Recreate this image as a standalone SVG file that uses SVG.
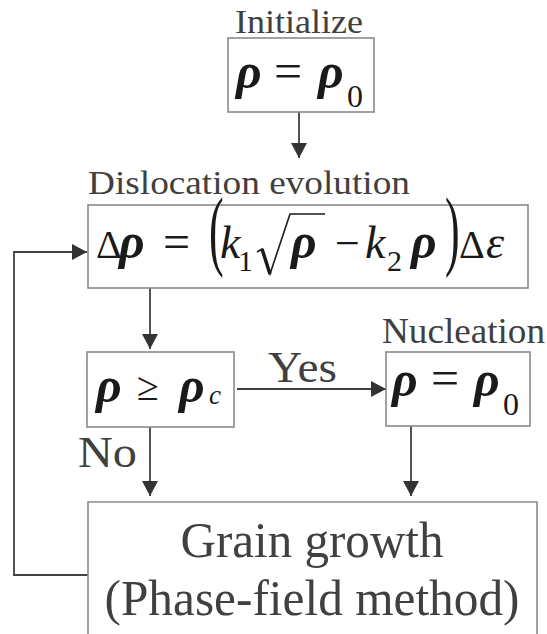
<svg xmlns="http://www.w3.org/2000/svg" width="547" height="634" viewBox="0 0 547 634">
<defs>
<style>
.box{fill:#ffffff;stroke:#8a8a8a;stroke-width:1.6}
.con{fill:none;stroke:#404040;stroke-width:1.8}
.lbl{font-family:"Liberation Serif",serif;fill:#404040}
.m{font-family:"Liberation Serif",serif;fill:#1a1a1a}
.gr{font-style:italic;font-weight:bold;font-size:50px}
.it{font-style:italic}
</style>
<marker id="ah" markerUnits="userSpaceOnUse" markerWidth="18" markerHeight="16" refX="15" refY="8" orient="auto">
<path d="M0,0 L15,8 L0,16 Z" fill="#333333"/>
</marker>
</defs>
<rect width="547" height="634" fill="#ffffff"/>

<g id="connectors">
<line class="con" x1="299" y1="112" x2="299" y2="158" marker-end="url(#ah)"/>
<line class="con" x1="150" y1="288" x2="150" y2="349" marker-end="url(#ah)"/>
<line class="con" x1="237" y1="389" x2="386" y2="389" marker-end="url(#ah)"/>
<line class="con" x1="150" y1="427" x2="150" y2="496" marker-end="url(#ah)"/>
<line class="con" x1="411" y1="426" x2="411" y2="496" marker-end="url(#ah)"/>
<polyline class="con" points="88,575 14,575 14,252 87,252" marker-end="url(#ah)"/>
<text class="lbl" x="268" y="382" font-size="45" textLength="69" lengthAdjust="spacingAndGlyphs">Yes</text>
<text class="lbl" x="78" y="467" font-size="45" textLength="59" lengthAdjust="spacingAndGlyphs">No</text>
</g>

<g id="initialize">
<text class="lbl" x="235" y="33" font-size="33" textLength="128" lengthAdjust="spacingAndGlyphs">Initialize</text>
<rect class="box" x="228" y="38" width="146" height="74"/>
<text class="m gr" x="236" y="88">ρ</text>
<text class="m" x="274" y="88" font-size="50">=</text>
<text class="m gr" x="318" y="88">ρ</text>
<text class="m" x="347" y="107" font-size="32">0</text>
</g>

<g id="dislocation">
<text class="lbl" x="88" y="194" font-size="34" textLength="322" lengthAdjust="spacingAndGlyphs">Dislocation evolution</text>
<rect class="box" x="88" y="205" width="440" height="83"/>
<text class="m" x="96" y="258" font-size="40">Δ</text>
<text class="m gr" x="119" y="258">ρ</text>
<text class="m" x="163" y="258" font-size="48">=</text>
<text class="m" transform="translate(209,259) scale(0.5,1)" font-size="88">(</text>
<text class="m it" x="220" y="258" font-size="46">k</text>
<text class="m" x="238" y="271" font-size="30">1</text>
<polyline points="257,252 262,249 270,274 290,214 325,214" fill="none" stroke="#1a1a1a" stroke-width="1.6" stroke-linejoin="miter"/>
<line x1="262" y1="249" x2="270" y2="274" stroke="#1a1a1a" stroke-width="3.5"/>
<text class="m gr" x="291" y="258">ρ</text>
<text class="m" x="335" y="258" font-size="44">−</text>
<text class="m it" x="365" y="258" font-size="46">k</text>
<text class="m" x="387" y="271" font-size="30">2</text>
<text class="m gr" x="411" y="258">ρ</text>
<text class="m" transform="translate(445,259) scale(0.5,1)" font-size="88">)</text>
<text class="m" x="459" y="258" font-size="40">Δ</text>
<text class="m it" x="486" y="258" font-size="46">ε</text>
</g>

<g id="check">
<rect class="box" x="87" y="352" width="147" height="75"/>
<text class="m gr" x="96" y="402">ρ</text>
<text class="m" x="137" y="400" font-size="40">≥</text>
<text class="m gr" x="179" y="402">ρ</text>
<text class="m it" x="209" y="404" font-size="27">c</text>
</g>

<g id="nucleation">
<text class="lbl" x="382" y="343" font-size="36" textLength="163" lengthAdjust="spacingAndGlyphs">Nucleation</text>
<rect class="box" x="386" y="352" width="144" height="74"/>
<text class="m gr" x="392" y="396">ρ</text>
<text class="m" x="431" y="395" font-size="50">=</text>
<text class="m gr" x="474" y="396">ρ</text>
<text class="m" x="503" y="415" font-size="32">0</text>
</g>

<g id="grain">
<path class="box" d="M88,640 V502 H537 V640"/>
<text class="lbl" x="312" y="557" font-size="50" text-anchor="middle" textLength="263" lengthAdjust="spacingAndGlyphs">Grain growth</text>
<text class="lbl" x="312" y="615" font-size="50" text-anchor="middle" textLength="415" lengthAdjust="spacingAndGlyphs">(Phase-field method)</text>
</g>
</svg>
